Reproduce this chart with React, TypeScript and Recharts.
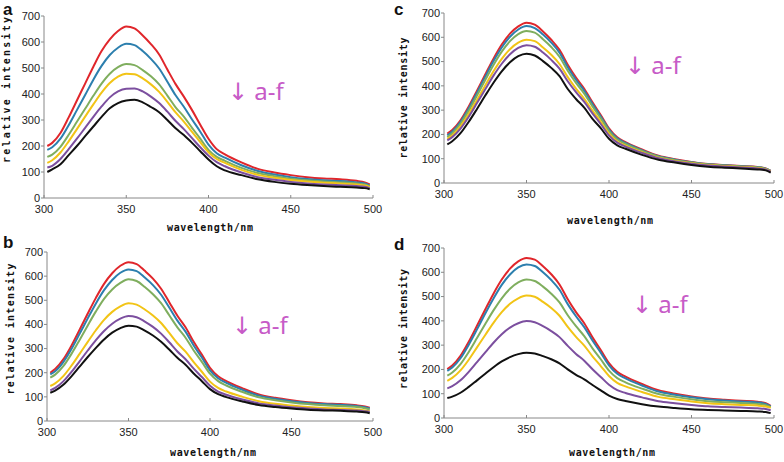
import React from 'react';
import { LineChart, Line, XAxis, YAxis } from 'recharts';

// wavelength (nm)
const wavelengths = [302, 305, 310, 315, 320, 325, 330, 335, 340, 345, 350, 355, 360, 365, 370, 375, 380, 385, 390, 395, 400, 405, 410, 420, 430, 440, 450, 460, 470, 480, 490, 495, 498];

const xTicks = [300, 350, 400, 450, 500];
const yTicks = [0, 100, 200, 300, 400, 500, 600, 700];
const seriesNames = ['a', 'b', 'c', 'd', 'e', 'f'];
const seriesColors = ['#e0262b', '#2c7fae', '#7fae5e', '#f2c416', '#7c4f9f', '#111111'];

// panel a
const aRed = [200, 212, 250, 310, 375, 440, 505, 565, 610, 642, 660, 652, 625, 592, 552, 494, 438, 390, 338, 282, 228, 188, 168, 137, 112, 98, 88, 80, 75, 72, 66, 60, 52];
const aBlue = [185, 195, 228, 280, 338, 396, 455, 508, 550, 578, 593, 588, 565, 535, 498, 447, 395, 351, 302, 255, 205, 172, 155, 126, 104, 90, 80, 73, 68, 65, 60, 56, 48];
const aGreen = [158, 167, 197, 243, 293, 343, 393, 440, 478, 503, 515, 511, 492, 468, 437, 394, 349, 313, 270, 228, 185, 158, 143, 116, 96, 84, 74, 68, 63, 60, 56, 52, 45];
const aYellow = [135, 145, 175, 218, 265, 313, 360, 405, 442, 467, 478, 476, 460, 437, 408, 370, 329, 294, 254, 215, 176, 150, 135, 108, 89, 78, 69, 63, 59, 56, 52, 48, 42];
const aPurple = [117, 124, 150, 188, 228, 270, 312, 352, 387, 410, 420, 421, 410, 390, 365, 332, 296, 265, 230, 195, 163, 138, 122, 98, 80, 70, 62, 56, 52, 49, 46, 43, 38];
const aBlack = [100, 110, 130, 165, 200, 238, 275, 312, 345, 365, 375, 378, 368, 350, 330, 300, 268, 242, 212, 180, 148, 122, 106, 88, 72, 62, 55, 50, 46, 43, 40, 38, 34];

// panel b
const bRed = [200, 215, 255, 312, 378, 445, 510, 568, 612, 643, 658, 650, 622, 590, 548, 492, 436, 388, 328, 275, 220, 185, 165, 135, 110, 96, 86, 78, 73, 70, 65, 60, 55];
const bBlue = [193, 206, 244, 298, 361, 425, 487, 542, 584, 614, 628, 621, 594, 563, 523, 470, 416, 370, 313, 263, 210, 177, 158, 129, 105, 92, 82, 75, 70, 67, 62, 57, 52];
const bGreen = [180, 192, 227, 278, 336, 396, 454, 506, 545, 572, 587, 580, 555, 525, 488, 438, 388, 345, 292, 245, 196, 165, 147, 120, 98, 86, 77, 70, 65, 62, 58, 53, 48];
const bYellow = [145, 156, 186, 229, 278, 328, 376, 419, 452, 475, 488, 482, 462, 437, 406, 365, 322, 287, 244, 204, 163, 137, 122, 100, 82, 71, 64, 58, 54, 52, 48, 44, 40];
const bPurple = [127, 137, 164, 203, 247, 292, 335, 373, 403, 424, 435, 430, 412, 390, 362, 326, 288, 256, 217, 182, 146, 122, 109, 89, 73, 64, 57, 52, 48, 46, 43, 40, 38];
const bBlack = [117, 126, 150, 185, 225, 265, 303, 338, 366, 385, 395, 391, 374, 354, 328, 296, 262, 233, 197, 165, 132, 111, 99, 81, 66, 58, 52, 47, 44, 42, 39, 36, 32];

// panel c
const cRed = [203, 218, 258, 315, 380, 447, 512, 570, 615, 645, 660, 652, 624, 590, 548, 487, 434, 388, 332, 280, 225, 188, 168, 138, 112, 98, 87, 78, 74, 70, 66, 60, 50];
const cBlue = [196, 212, 252, 308, 372, 438, 502, 558, 602, 632, 646, 638, 611, 578, 537, 477, 425, 380, 325, 274, 220, 184, 165, 135, 110, 96, 85, 77, 73, 69, 65, 59, 50];
const cGreen = [189, 205, 244, 298, 360, 424, 486, 541, 584, 613, 626, 619, 592, 560, 520, 462, 412, 368, 315, 266, 214, 179, 161, 132, 108, 94, 84, 76, 72, 68, 64, 58, 49];
const cYellow = [182, 196, 233, 284, 342, 402, 460, 511, 551, 578, 590, 584, 558, 528, 490, 436, 389, 347, 298, 252, 203, 171, 154, 127, 104, 91, 81, 74, 70, 66, 62, 56, 48];
const cPurple = [176, 189, 224, 273, 329, 386, 442, 491, 530, 556, 567, 561, 537, 507, 471, 419, 374, 334, 287, 243, 196, 166, 150, 124, 102, 89, 79, 72, 68, 64, 60, 55, 47];
const cBlack = [159, 172, 205, 252, 305, 360, 413, 460, 497, 522, 532, 525, 502, 474, 440, 387, 346, 310, 264, 226, 182, 155, 141, 116, 96, 84, 74, 67, 63, 60, 56, 52, 43];

// panel d
const dRed = [201, 216, 256, 314, 380, 447, 512, 570, 615, 645, 659, 652, 625, 592, 550, 489, 436, 390, 332, 280, 226, 190, 170, 140, 114, 100, 89, 80, 75, 71, 67, 61, 50];
const dBlue = [194, 208, 246, 302, 365, 430, 492, 548, 591, 620, 632, 626, 600, 568, 528, 469, 419, 374, 319, 269, 217, 182, 163, 134, 109, 96, 85, 77, 72, 68, 64, 58, 48];
const dGreen = [174, 187, 222, 272, 329, 387, 443, 493, 532, 558, 570, 564, 541, 512, 476, 423, 378, 337, 287, 242, 195, 164, 147, 121, 99, 87, 77, 69, 65, 62, 58, 53, 45];
const dYellow = [153, 165, 196, 240, 291, 342, 392, 436, 470, 493, 504, 499, 478, 453, 421, 375, 334, 298, 254, 214, 173, 145, 130, 107, 87, 77, 68, 61, 57, 54, 51, 47, 42];
const dPurple = [122, 131, 155, 190, 230, 270, 310, 345, 372, 390, 399, 394, 378, 358, 333, 297, 264, 236, 201, 169, 137, 115, 103, 85, 69, 61, 54, 48, 45, 43, 40, 37, 32];
const dBlack = [82, 88, 104, 128, 155, 182, 209, 233, 251, 263, 269, 266, 255, 242, 225, 200, 178, 159, 136, 114, 92, 78, 70, 57, 47, 41, 36, 33, 31, 29, 27, 25, 20];

const buildRows = (series: number[][]) =>
  wavelengths.map((w, i) => {
    const row: Record<string, number> = { w };
    series.forEach((s, k) => {
      row[seriesNames[k]] = s[i];
    });
    return row;
  });

const panels = [
  { id: 'a', x0: 44, x1: 373, y0: 16, y1: 198, rows: buildRows([aRed, aBlue, aGreen, aYellow, aPurple, aBlack]) },
  { id: 'c', x0: 444, x1: 774, y0: 13, y1: 183, rows: buildRows([cRed, cBlue, cGreen, cYellow, cPurple, cBlack]) },
  { id: 'b', x0: 47, x1: 373, y0: 252, y1: 421, rows: buildRows([bRed, bBlue, bGreen, bYellow, bPurple, bBlack]) },
  { id: 'd', x0: 444, x1: 774, y0: 248, y1: 418, rows: buildRows([dRed, dBlue, dGreen, dYellow, dPurple, dBlack]) },
];

const labels = [
  { id: 'a', lx: 3, ly: 15, ax: 228, ay: 100, xtx: 210, xty: 230.5, ytx: 10, yty: 90, yLen: 146 },
  { id: 'c', lx: 394, ly: 15, ax: 625, ay: 74, xtx: 610, xty: 223.5, ytx: 407, yty: 98, yLen: 121 },
  { id: 'b', lx: 3, ly: 248, ax: 232, ay: 334, xtx: 213, xty: 456, ytx: 14, yty: 329, yLen: 131 },
  { id: 'd', lx: 394, ly: 250, ax: 632, ay: 313, xtx: 612, xty: 456, ytx: 407, yty: 329, yLen: 120 },
];

const ML = 40;
const MT = 10;
const MR = 12;
const XH = 30;
const X_OFF = 7;
const tickFont = 'Liberation Sans, Arial, sans-serif';
const tickStyle = { fontSize: 11, fill: '#222', fontFamily: tickFont };

function XTick(props: any) {
  const { x, y, payload } = props;
  const axisY = y - X_OFF;
  return (
    <g>
      <line x1={x} x2={x} y1={axisY} y2={axisY - 3} stroke="#888" strokeWidth={1} />
      <text x={x} y={y} dy="0.71em" textAnchor="middle" fontSize={11} fill="#222" fontFamily={tickFont}>
        {payload.value}
      </text>
    </g>
  );
}

function Panel({ p }: { p: (typeof panels)[number] }) {
  const plotW = p.x1 - p.x0;
  const plotH = p.y1 - p.y0;
  return (
    <div style={{ position: 'absolute', left: p.x0 - ML, top: p.y0 - MT }}>
      <LineChart
        width={plotW + ML + MR}
        height={plotH + MT + XH}
        data={p.rows}
        margin={{ top: MT, right: MR, left: 0, bottom: 0 }}
      >
        <XAxis
          dataKey="w"
          type="number"
          domain={[300, 500]}
          ticks={xTicks}
          interval={0}
          height={XH}
          tickLine={false}
          tickSize={0}
          tickMargin={X_OFF}
          axisLine={{ stroke: '#888', strokeWidth: 1 }}
          tick={<XTick />}
        />
        <YAxis
          width={ML}
          domain={[0, 700]}
          ticks={yTicks}
          interval={0}
          tickSize={3}
          tickMargin={1}
          tickLine={{ stroke: '#888' }}
          axisLine={{ stroke: '#888', strokeWidth: 1 }}
          tick={tickStyle}
        />
        {seriesNames.map((k, i) => (
          <Line
            key={k}
            dataKey={k}
            type="monotone"
            stroke={seriesColors[i]}
            strokeWidth={2}
            dot={false}
            isAnimationActive={false}
          />
        ))}
      </LineChart>
    </div>
  );
}

export default function App() {
  return (
    <div style={{ position: 'absolute', left: 0, top: 0, width: 784, height: 462, background: '#fff', overflow: 'hidden' }}>
      {panels.map((p) => (
        <Panel key={p.id} p={p} />
      ))}
      <svg width={784} height={462} style={{ position: 'absolute', left: 0, top: 0, pointerEvents: 'none' }}>
        {labels.map((l) => (
          <g key={l.id}>
            <text x={l.lx} y={l.ly} fontSize={17} fontWeight="bold" fontFamily="Liberation Sans, Arial, sans-serif" fill="#111">
              {l.id}
            </text>
            <text x={l.ax} y={l.ay} fontSize={24} fontFamily="Noto Sans, DejaVu Sans, sans-serif" fill="#c75bc7">
              ↓ a-f
            </text>
            <text
              x={l.xtx}
              y={l.xty}
              fontSize={10}
              fontWeight="bold"
              fontFamily="DejaVu Sans Mono, monospace"
              fill="#111"
              textAnchor="middle"
              textLength={86}
              lengthAdjust="spacing"
            >
              wavelength/nm
            </text>
            <text
              x={l.ytx}
              y={l.yty}
              fontSize={10}
              fontWeight="bold"
              fontFamily="DejaVu Sans Mono, monospace"
              fill="#111"
              textAnchor="middle"
              textLength={l.yLen}
              lengthAdjust="spacing"
              transform={`rotate(-90 ${l.ytx} ${l.yty})`}
            >
              relative intensity
            </text>
          </g>
        ))}
      </svg>
    </div>
  );
}
